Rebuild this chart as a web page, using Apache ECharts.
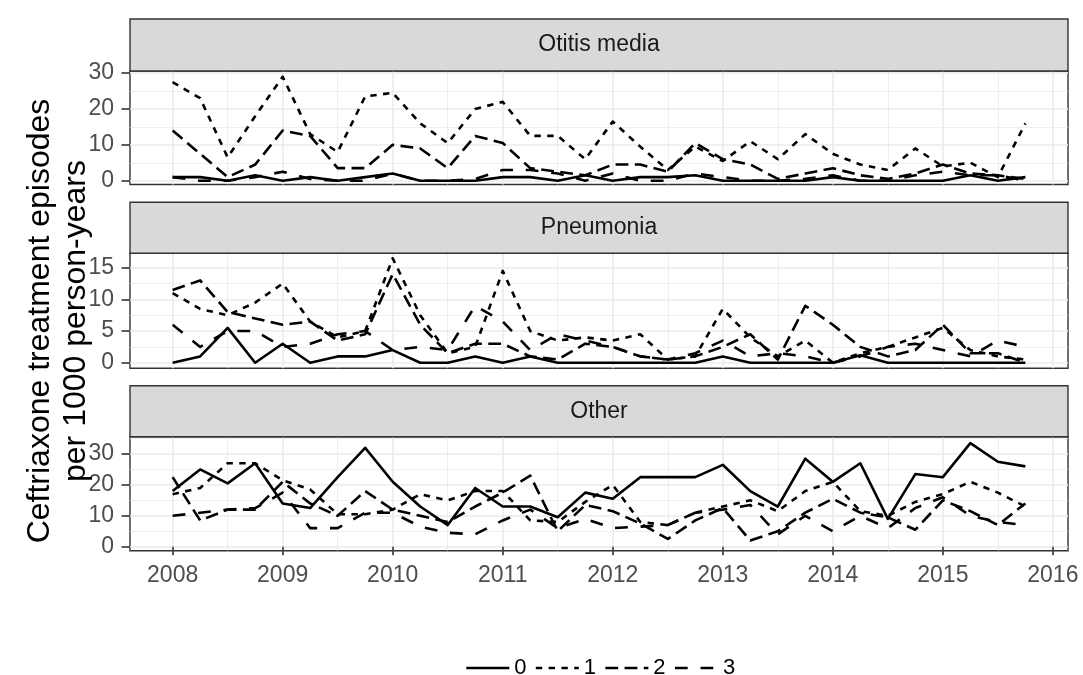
<!DOCTYPE html>
<html>
<head>
<meta charset="utf-8">
<script src="https://cdn.jsdelivr.net/npm/echarts@6.0.0/dist/echarts.min.js"></script>
<style>
  html, body { margin: 0; padding: 0; background: #ffffff; }
  #chart { width: 1083px; height: 675px; }
</style>
</head>
<body>
<div id="chart"></div>
<script>
// Quarterly time points (decimal years)
const quarters = [
  2008, 2008.25, 2008.5, 2008.75, 2009, 2009.25, 2009.5, 2009.75,
  2010, 2010.25, 2010.5, 2010.75, 2011, 2011.25, 2011.5, 2011.75,
  2012, 2012.25, 2012.5, 2012.75, 2013, 2013.25, 2013.5, 2013.75,
  2014, 2014.25, 2014.5, 2014.75, 2015, 2015.25, 2015.5, 2015.75
];

const facets = ['Otitis media', 'Pneumonia', 'Other'];
const groups = ['0', '1', '2', '3'];

// Otitis media
const otitis0 = [1, 1, 0, 1.5, 0, 1, 0, 1, 2, 0, 0, 0, 1, 1, 0, 1.5, 0, 1, 1, 1.5, 0, 0, 0, 0, 1, 0, 0, 0, 0, 1.5, 0, 1];
const otitis1 = [27.5, 23, 6.5, 18, 29, 13, 8, 23.5, 24.5, 16, 10.5, 20, 22, 12.5, 12.5, 6, 16.5, 9.5, 3, 9.5, 5.5, 11, 6, 13, 7.5, 4.5, 3, 9, 4, 5, 1, 16];
const otitis2 = [14, 7.5, 1, 4.5, 14, 12.5, 3.5, 3.5, 10, 9, 3.5, 12.5, 10.5, 3.5, 2.5, 1.5, 4.5, 4.5, 2.5, 10.5, 6, 4.5, 0.5, 2, 3.5, 1.5, 0.5, 2, 4.5, 2, 1.5, 0.5];
const otitis3 = [1, 0, 0, 1, 2.5, 0.5, 0, 0, 2, 0, 0, 0.5, 3, 3, 2, 0, 2, 0, 0, 2, 1, 0, 0, 0.5, 1.5, 0, 0, 1.5, 2.5, 1.5, 1.5, 0];

// Pneumonia
const pneumonia0 = [0, 1, 5.5, 0, 3, 0, 1, 1, 2, 0, 0, 1, 0, 1, 0, 0, 0, 0, 0, 0, 1, 0, 0, 0, 0, 1.2, 0, 0, 0, 0, 0, 0];
const pneumonia1 = [11, 8.5, 7.5, 9.5, 12.5, 6.5, 4, 5, 16.5, 7.5, 1.5, 2.5, 14.5, 5, 3.5, 4, 3.5, 4.5, 0.5, 1, 8.5, 4, 1, 3.5, 0, 1.5, 2.5, 4, 5.5, 2, 1, 0.5];
const pneumonia2 = [11.5, 13, 8, 7, 6, 6.5, 3.5, 4.5, 14, 6, 1.5, 3, 3, 1, 0.5, 3, 2.5, 1, 0.5, 1, 2.5, 4.5, 0.5, 9, 6, 2.5, 1, 2, 6, 1.5, 1.5, 0];
const pneumonia3 = [6, 2.5, 5, 5, 2.5, 3, 4.5, 5, 2, 2.5, 2, 9, 6.5, 2, 4.5, 3.5, 2.5, 1, 0.5, 1.5, 3.5, 1, 1.5, 1, 0, 1, 2.5, 3, 2, 1, 3.5, 2.5];

// Other
const other0 = [18, 25, 20.5, 27, 14, 12.5, 22.5, 32, 21, 13, 7, 19, 13, 13, 9.5, 17.5, 15.5, 22.5, 22.5, 22.5, 26.5, 18, 13, 28.5, 21, 27, 9, 23.5, 22.5, 33.5, 27.5, 26];
const other1 = [17, 19, 27, 27, 21.5, 18.5, 10.5, 10.5, 12, 17, 15, 18, 18, 8.5, 8, 14.5, 20, 8, 7, 11, 13, 15, 11.5, 18, 21, 11.5, 10, 14.5, 17, 21, 17.5, 13];
const other2 = [22.5, 8.5, 12, 12, 21, 14, 10, 18, 12, 10, 8, 13, 17.5, 23, 5, 13.5, 11.5, 7.5, 2.5, 8.5, 12.5, 2, 5, 11, 15.5, 11, 9.5, 5.5, 15, 11.5, 7, 14];
const other3 = [10, 11, 12, 12.5, 17.5, 6, 6, 11, 11, 6.5, 4.5, 4, 8.5, 12, 6, 9, 6, 6.5, 7, 11, 12, 13.5, 4, 10, 5, 10, 6, 12.5, 16, 10, 8, 7];

// Tick labels
const xTickValues = [2008, 2009, 2010, 2011, 2012, 2013, 2014, 2015, 2016];
const yTickValues = [[0, 10, 20, 30], [0, 5, 10, 15], [0, 10, 20, 30]];

const facetSeries = [
  [otitis0, otitis1, otitis2, otitis3],
  [pneumonia0, pneumonia1, pneumonia2, pneumonia3],
  [other0, other1, other2, other3]
];

// Layout of the three facet panels
const FONT = '"Liberation Sans", Arial, Helvetica, sans-serif';
const PANEL_LEFT = 130;
const PANEL_WIDTH = 938;
const panels = [
  { stripTop: 19,    top: 71,    bottom: 184.5, yMin: -1.06, yMax: 30.6,  splitNumber: 3 },
  { stripTop: 202.3, top: 253.3, bottom: 368.3, yMin: -0.88, yMax: 17.28, splitNumber: 4 },
  { stripTop: 385.7, top: 436.7, bottom: 550.7, yMin: -1.3,  yMax: 35.6,  splitNumber: 4 }
];
const X_MIN = 2007.6125;
const X_MAX = 2016.1375;

// linetypes: solid, "22", "42", "44"
const LW = 2.6;
const U = 3.2;
const lineTypes = ['solid', [2 * U, 2 * U], [4 * U, 2 * U], [4 * U, 4 * U]];

const GRID_COLOR = '#EBEBEB';
const BORDER_COLOR = '#333333';
const TICK_FONT = 23;

const grids = [], xAxes = [], yAxes = [], series = [], graphics = [];

panels.forEach((p, k) => {
  const isBottom = k === panels.length - 1;
  grids.push({
    left: PANEL_LEFT, width: PANEL_WIDTH, top: p.top, height: p.bottom - p.top,
    show: true, borderColor: BORDER_COLOR, borderWidth: 1.4, backgroundColor: '#ffffff'
  });
  xAxes.push({
    type: 'value', gridIndex: k, min: X_MIN, max: X_MAX, splitNumber: 8,
    axisLine: { show: false },
    axisTick: { show: isBottom, length: 8.5, customValues: xTickValues,
                lineStyle: { color: BORDER_COLOR, width: 1.6 } },
    axisLabel: { show: isBottom, customValues: xTickValues, margin: 13,
                 fontFamily: FONT, fontSize: TICK_FONT, color: '#4D4D4D',
                 formatter: v => String(v) },
    splitLine: { show: true, lineStyle: { color: GRID_COLOR, width: 1.6 } },
    minorTick: { show: false, splitNumber: 2 },
    minorSplitLine: { show: true, lineStyle: { color: GRID_COLOR, width: 0.8 } }
  });
  yAxes.push({
    type: 'value', gridIndex: k, min: p.yMin, max: p.yMax, splitNumber: p.splitNumber,
    axisLine: { show: false },
    axisTick: { show: true, length: 8.5, customValues: yTickValues[k],
                lineStyle: { color: BORDER_COLOR, width: 1.6 } },
    axisLabel: { show: true, customValues: yTickValues[k], margin: 16,
                 fontFamily: FONT, fontSize: TICK_FONT, color: '#4D4D4D' },
    splitLine: { show: true, lineStyle: { color: GRID_COLOR, width: 1.6 } },
    minorTick: { show: false, splitNumber: 2 },
    minorSplitLine: { show: true, lineStyle: { color: GRID_COLOR, width: 0.8 } }
  });

  facetSeries[k].forEach((vals, g) => {
    series.push({
      name: groups[g], type: 'line', xAxisIndex: k, yAxisIndex: k,
      data: quarters.map((q, i) => [q, vals[i]]),
      symbol: 'none', showSymbol: false, silent: true, z: 5 - g,
      color: '#000000',
      itemStyle: { color: '#000000' },
      lineStyle: { color: '#000000', width: LW, type: lineTypes[g], cap: 'butt', join: 'round' }
    });
  });

  // facet strip
  graphics.push({
    type: 'rect', silent: true, z: 10,
    shape: { x: PANEL_LEFT, y: p.stripTop, width: PANEL_WIDTH, height: p.top - p.stripTop },
    style: { fill: '#D9D9D9', stroke: BORDER_COLOR, lineWidth: 1.4 }
  });
  graphics.push({
    type: 'text', silent: true, z: 11,
    x: PANEL_LEFT + PANEL_WIDTH / 2, y: (p.stripTop + p.top) / 2,
    style: { text: facets[k], fontFamily: FONT, fontSize: 23, fill: '#1A1A1A',
             align: 'center', verticalAlign: 'middle' }
  });
});

// y axis title, two lines
const yTitle = ['Ceftriaxone treatment episodes', 'per 1000 person-years'];
[40, 76].forEach((x, i) => {
  graphics.push({
    type: 'text', silent: true, z: 11, x: x, y: 321, rotation: Math.PI / 2,
    style: { text: yTitle[i], fontFamily: FONT, fontSize: 32, fill: '#000000',
             align: 'center', verticalAlign: 'middle' }
  });
});

const chart = echarts.init(document.getElementById('chart'), null, { renderer: 'canvas' });
chart.setOption({
  animation: false,
  backgroundColor: '#ffffff',
  grid: grids,
  xAxis: xAxes,
  yAxis: yAxes,
  series: series,
  graphic: graphics,
  legend: {
    data: groups, left: 465, top: 657, padding: 0, orient: 'horizontal',
    itemWidth: 43, itemHeight: 14, itemGap: 8, selectedMode: false,
    itemStyle: { opacity: 0, borderWidth: 0 },
    lineStyle: { width: LW, color: '#000000' },
    textStyle: { fontFamily: FONT, fontSize: 22, color: '#000000' }
  }
});
</script>
</body>
</html>
